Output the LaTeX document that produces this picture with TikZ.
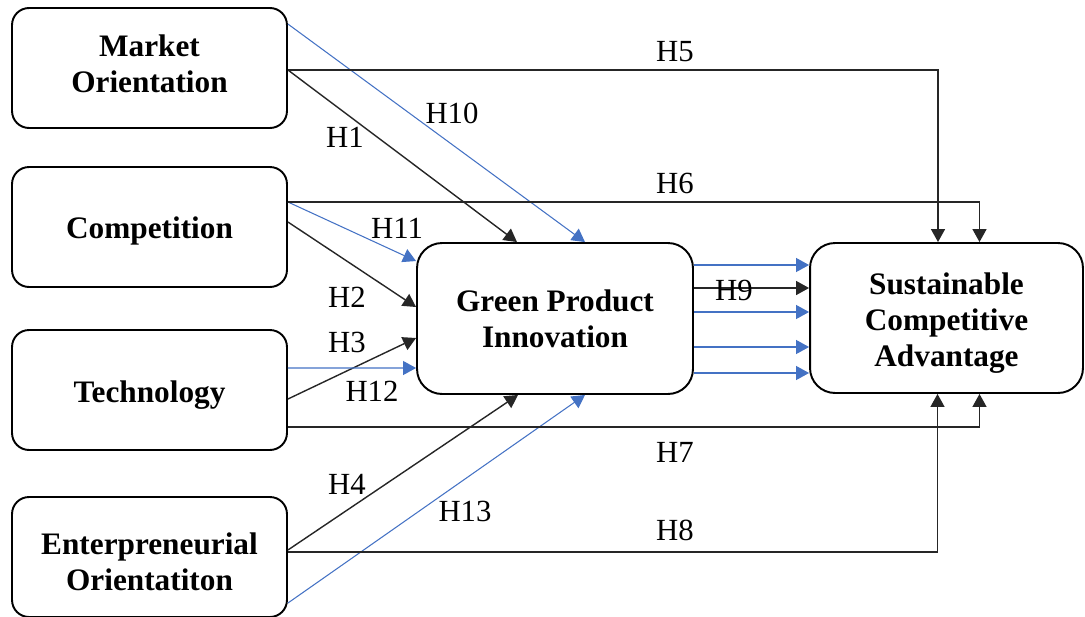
\documentclass[tikz,border=0pt]{standalone}
\usepackage{fontspec}
\setmainfont{Liberation Serif}
\usetikzlibrary{arrows.meta,calc}
\tikzset{every node/.append style={align=center}}
\definecolor{linkblue}{RGB}{68, 114, 196}
% move a line of box text up or down without changing the box
\newcommand{\boxline}[2]{\raisebox{#1}[\height][\depth]{#2}}

\begin{document}
\begin{tikzpicture}[
    x=0.02cm, y=-0.02cm,
    construct/.style={draw, line width=1.1pt, rounded corners=0.34cm, inner sep=0pt, minimum width=5.5cm, minimum height=2.4cm, font=\fontsize{17.8}{20.5}\selectfont\bfseries},
    hyp/.style={inner sep=0pt, font=\fontsize{17.5}{21}\selectfont},
    link/.style={-{Triangle[length=0.26cm, width=0.28cm]}, line width=0.8pt, black!85},
    bluelink/.style={link, line width=0.6pt, linkblue}
]
    \useasboundingbox (0,0) rectangle (1085,616);

    % Constructs
    \node[construct] (market) at (149.5, 68) {\boxline{2.6pt}{Market}\\\boxline{2.6pt}{Orientation}};
    \node[construct] (comp) at (149.5, 227) {\boxline{-2pt}{Competition}};
    \node[construct] (tech) at (149.5, 390) {\boxline{-3.1pt}{Technology}};
    \node[construct] (entre) at (149.5, 557) {\boxline{-2.6pt}{Enterpreneurial}\\\boxline{-2.6pt}{Orientatiton}};
    \node[construct, minimum width=5.52cm, minimum height=3.02cm, rounded corners=0.5cm] (gpi) at (555, 318.5) {Green Product\\Innovation};
    \node[construct, minimum width=5.46cm, minimum height=3cm, rounded corners=0.5cm] (sca) at (946.5, 318) {\boxline{-2.8pt}{Sustainable}\\\boxline{-2.8pt}{Competitive}\\\boxline{-2.8pt}{Advantage}};

    % Paths into green product innovation
    \draw[link] ($(market.east)+(0,2)$) -- ($(gpi.north)+(-38,0)$);
    \draw[bluelink] ($(market.north east)+(0,17)$) -- ($(gpi.north)+(30,0)$);
    \draw[bluelink] ($(comp.east)+(0,-25)$) -- ($(gpi.north west)+(0,19)$);
    \draw[link] ($(comp.east)+(0,-5)$) -- ($(gpi.west)+(0,-11.5)$);
    \draw[link] ($(tech.east)+(0,9)$) -- ($(gpi.west)+(0,19.5)$);
    \draw[bluelink] ($(tech.east)+(0,-22)$) -- ($(gpi.west)+(0,49.5)$);
    \draw[link] ($(entre.east)+(0,-7)$) -- ($(gpi.south)+(-37,0)$);
    \draw[bluelink] ($(entre.east)+(0,46)$) -- ($(gpi.south)+(30,0)$);

    % Direct paths into competitive advantage
    \draw[link] ($(market.east)+(0,2)$) -| ($(sca.north)+(-8.5,0)$);
    \draw[link] ($(comp.east)+(0,-25)$) -| ($(sca.north)+(33,0)$);
    \draw[link] ($(tech.east)+(0,37)$) -| ($(sca.south)+(33,0)$);
    \draw[link] ($(entre.east)+(0,-5)$) -| ($(sca.south)+(-9,0)$);

    % Mediation paths
    \foreach \dy in {-53.5,-6.5,28.5,54.5}
        \draw[bluelink] ($(gpi.east)+(0,\dy)$) coordinate (m) -- (m -| sca.west);
    \draw[link] ($(gpi.east)+(0,-30.5)$) coordinate (h9start) -- (h9start -| sca.west);

    % Hypothesis labels
    \node[hyp] (lh1) at (345, 137) {H1};
    \node[hyp] (lh2) at (347, 297) {H2};
    \node[hyp] (lh3) at (347, 342) {H3};
    \node[hyp] (lh4) at (347, 484) {H4};
    \node[hyp] (lh5) at (675, 52) {H5};
    \node[hyp] (lh6) at (675, 183) {H6};
    \node[hyp] (lh7) at (675, 452) {H7};
    \node[hyp] (lh8) at (675, 530) {H8};
    \node[hyp] (lh9) at (734, 290) {H9};
    \node[hyp] (lh10) at (452, 113) {H10};
    \node[hyp] (lh11) at (397, 228) {H11};
    \node[hyp] (lh12) at (372, 391) {H12};
    \node[hyp] (lh13) at (465, 511) {H13};

\end{tikzpicture}
\end{document}
